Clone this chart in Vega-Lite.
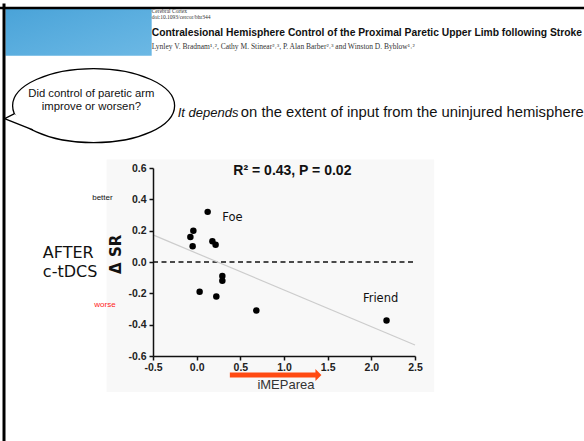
{
  "$schema": "https://vega.github.io/schema/vega-lite/v6.json",
  "width": 262,
  "height": 188,
  "autosize": "none",
  "padding": {"left": 153, "top": 168, "right": 169, "bottom": 85},
  "background": "white",
  "config": {"view": {"stroke": null}},
  "encoding": {
    "x": {
      "field": "x", "type": "quantitative",
      "scale": {"domain": [-0.5, 2.5], "nice": false, "zero": false},
      "axis": {
        "values": [-0.5, 0, 0.5, 1, 1.5, 2, 2.5], "format": ".1f",
        "labelExpr": "replace(datum.label, '−', '-')",
        "title": null, "grid": false, "labelFlush": false, "labelOverlap": false, "labelBound": false, "zindex": 2,
        "domainColor": "#111", "domainWidth": 1.5, "tickColor": "#111", "tickWidth": 1.5, "tickSize": 4,
        "labelFont": "Liberation Sans", "labelFontWeight": "bold", "labelFontSize": 10.5, "labelColor": "#222", "labelPadding": 2
      }
    },
    "y": {
      "field": "y", "type": "quantitative",
      "scale": {"domain": [-0.6, 0.6], "nice": false, "zero": false},
      "axis": {
        "values": [-0.6, -0.4, -0.2, 0, 0.2, 0.4, 0.6], "format": ".1f",
        "labelExpr": "replace(datum.label, '−', '-')",
        "title": null, "grid": false, "labelFlush": false, "labelOverlap": false, "labelBound": false, "zindex": 2,
        "domainColor": "#111", "domainWidth": 1.5, "tickColor": "#111", "tickWidth": 1.5, "tickSize": 4,
        "labelFont": "Liberation Sans", "labelFontWeight": "bold", "labelFontSize": 10.5, "labelColor": "#222", "labelPadding": 3
      }
    }
  },
  "layer": [
    {
      "data": {"values": [{"x": -1.031, "x2": 2.719, "y": 0.654, "y2": -0.83}]},
      "mark": {"type": "rect", "fill": "#f8f8f8", "clip": false},
      "encoding": {"x2": {"field": "x2"}, "y2": {"field": "y2"}}
    },
    {
      "data": {"values": [{"x": -2.189, "x2": -0.515, "y": 1.616, "y2": 1.3166}]},
      "mark": {"type": "rect", "clip": false, "fill": {"x1": 0, "y1": 0, "x2": 1, "y2": 1, "gradient": "linear", "stops": [{"offset": 0, "color": "#4aa3d8"}, {"offset": 0.6, "color": "#5eb0e0"}, {"offset": 1, "color": "#6cb8e4"}]}},
      "encoding": {"x2": {"field": "x2"}, "y2": {"field": "y2"}}
    },
    {
      "data": {"values": [{"x": -2.3, "x2": 4.6, "y": 1.622}]},
      "mark": {"type": "rule", "color": "#000", "strokeWidth": 2.5, "clip": false},
      "encoding": {"x2": {"field": "x2"}}
    },
    {
      "data": {"values": [{"x": -2.206, "y": 1.65, "y2": -1.2}]},
      "mark": {"type": "rule", "color": "#000", "strokeWidth": 3, "clip": false},
      "encoding": {"y2": {"field": "y2"}}
    },
    {
      "data": {"values": [{"x": -0.5, "x2": 2.5, "y": 0}]},
      "mark": {"type": "rule", "color": "#111", "strokeWidth": 1.5, "strokeDash": [5, 3.5], "clip": false},
      "encoding": {"x2": {"field": "x2"}}
    },
    {
      "data": {"values": [{"x": -0.5, "y": 0.173}, {"x": 2.5, "y": -0.53}]},
      "mark": {"type": "line", "color": "#cccccc", "strokeWidth": 1.2, "clip": false},
      "encoding": {}
    },
    {
      "data": {"values": [
        {"x": 0.126, "y": 0.32}, {"x": -0.038, "y": 0.2}, {"x": -0.072, "y": 0.16}, {"x": -0.046, "y": 0.1},
        {"x": 0.18, "y": 0.133}, {"x": 0.217, "y": 0.11}, {"x": 0.294, "y": -0.09}, {"x": 0.294, "y": -0.12},
        {"x": 0.034, "y": -0.19}, {"x": 0.225, "y": -0.22}, {"x": 0.683, "y": -0.31}, {"x": 2.174, "y": -0.373}
      ]},
      "mark": {"type": "point", "shape": "circle", "filled": true, "color": "#000", "opacity": 1, "size": 42, "clip": false},
      "encoding": {}
    },
    {
      "data": {"values": [{"x": 1.096, "y": 0.578, "t": "R² = 0.43, P = 0.02"}]},
      "mark": {"type": "text", "font": "Liberation Sans", "fontWeight": "bold", "fontSize": 14, "color": "#111", "align": "center", "baseline": "middle", "clip": false},
      "encoding": {"text": {"field": "t"}}
    },
    {
      "data": {"values": [{"x": 0.41, "y": 0.282, "t": "Foe"}, {"x": 2.106, "y": -0.238, "t": "Friend"}]},
      "mark": {"type": "text", "font": "DejaVu Sans", "fontSize": 11.5, "color": "#111", "align": "center", "baseline": "middle", "clip": false},
      "encoding": {"text": {"field": "t"}}
    },
    {
      "data": {"values": [{"x": 1.022, "y": -0.785, "t": "iMEParea"}]},
      "mark": {"type": "text", "font": "Liberation Sans", "fontSize": 13, "color": "#333", "align": "center", "baseline": "middle", "clip": false},
      "encoding": {"text": {"field": "t"}}
    },
    {
      "data": {"values": [{"x": -0.922, "y": 0.049, "t": "Δ SR"}]},
      "mark": {"type": "text", "font": "DejaVu Sans", "fontWeight": "bold", "fontSize": 15, "color": "#111", "angle": 270, "align": "center", "baseline": "middle", "clip": false},
      "encoding": {"text": {"field": "t"}}
    },
    {
      "data": {"values": [{"x": -1.079, "y": 0.406, "t": "better"}]},
      "mark": {"type": "text", "font": "Liberation Sans", "fontSize": 8, "color": "#111", "align": "center", "baseline": "middle", "clip": false},
      "encoding": {"text": {"field": "t"}}
    },
    {
      "data": {"values": [{"x": -1.05, "y": -0.274, "t": "worse"}]},
      "mark": {"type": "text", "font": "Liberation Sans", "fontSize": 8, "color": "#ff1a1a", "align": "center", "baseline": "middle", "clip": false},
      "encoding": {"text": {"field": "t"}}
    },
    {
      "data": {"values": [{"x": -1.761, "y": 0.0236, "t": "AFTER"}, {"x": -1.761, "y": -0.0975, "t": "c-tDCS"}]},
      "mark": {"type": "text", "font": "DejaVu Sans", "fontSize": 16, "color": "#111", "align": "left", "baseline": "alphabetic", "clip": false},
      "encoding": {"text": {"field": "t"}}
    },
    {
      "data": {"values": [{"x": -1.18, "y": 0.998}]},
      "mark": {"type": "point", "shape": "M -1 0 C -1 -0.2524 -0.5523 -0.457 0 -0.457 C 0.5523 -0.457 1 -0.2524 1 0 C 1 0.2524 0.5523 0.457 0 0.457 C -0.5523 0.457 -1 0.2524 -1 0 Z", "size": 26244, "filled": true, "fill": "#ffffff", "stroke": "#000", "strokeWidth": 1.3, "opacity": 1, "fillOpacity": 1, "strokeOpacity": 1, "clip": false},
      "encoding": {}
    },
    {
      "data": {"values": [{"x": -1.18, "y": 0.998}]},
      "mark": {"type": "point", "shape": "M -0.976 0.099 L -1.099 0.16 L -0.75 0.3", "size": 26244, "filled": true, "fill": "#ffffff", "stroke": "#000", "strokeWidth": 1.3, "opacity": 1, "fillOpacity": 1, "strokeOpacity": 1, "clip": false},
      "encoding": {}
    },
    {
      "data": {"values": [{"x": -1.206, "y": 1.052, "t": "Did control of paretic arm"}, {"x": -1.206, "y": 0.969, "t": "improve or worsen?"}]},
      "mark": {"type": "text", "font": "Liberation Sans", "fontSize": 11.3, "color": "#111", "align": "center", "baseline": "alphabetic", "clip": false},
      "encoding": {"text": {"field": "t"}}
    },
    {
      "data": {"values": [{"x": -0.217, "y": 0.928, "t": "It depends"}]},
      "mark": {"type": "text", "font": "Liberation Sans", "fontStyle": "italic", "fontSize": 13, "color": "#111", "align": "left", "baseline": "alphabetic", "clip": false},
      "encoding": {"text": {"field": "t"}}
    },
    {
      "data": {"values": [{"x": 0.5057, "y": 0.928, "t": "on the extent of input from the uninjured hemisphere"}]},
      "mark": {"type": "text", "font": "Liberation Sans", "fontSize": 14.8, "color": "#111", "align": "left", "baseline": "alphabetic", "clip": false},
      "encoding": {"text": {"field": "t"}}
    },
    {
      "data": {"values": [{"x": -0.515, "y": 1.587, "t": "Cerebral Cortex"}, {"x": -0.515, "y": 1.552, "t": "doi:10.1093/cercor/bhr344"}]},
      "mark": {"type": "text", "font": "Liberation Serif", "fontSize": 5.5, "color": "#333", "align": "left", "baseline": "alphabetic", "clip": false},
      "encoding": {"text": {"field": "t"}}
    },
    {
      "data": {"values": [{"x": -0.515, "y": 1.44, "t": "Contralesional Hemisphere Control of the Proximal Paretic Upper Limb following Stroke"}]},
      "mark": {"type": "text", "font": "Liberation Sans", "fontWeight": "bold", "fontSize": 10.3, "color": "#111", "align": "left", "baseline": "alphabetic", "clip": false},
      "encoding": {"text": {"field": "t"}}
    },
    {
      "data": {"values": [{"x": -0.515, "y": 1.361, "t": "Lynley V. Bradnam¹˒², Cathy M. Stinear²˒³, P. Alan Barber²˒³ and Winston D. Byblow¹˒²"}]},
      "mark": {"type": "text", "font": "Liberation Serif", "fontSize": 7.5, "color": "#333", "align": "left", "baseline": "alphabetic", "clip": false},
      "encoding": {"text": {"field": "t"}}
    },
    {
      "data": {"values": [{"x": 0.38, "x2": 1.366, "y": -0.722}]},
      "mark": {"type": "rule", "color": "#ff4a12", "strokeWidth": 5, "strokeCap": "butt", "clip": false},
      "encoding": {"x2": {"field": "x2"}}
    },
    {
      "data": {"values": [{"x": 1.394, "y": -0.722}]},
      "mark": {"type": "point", "shape": "M -0.5 -1 L 0.5 0 L -0.5 1 Z", "size": 144, "filled": true, "color": "#ff4a12", "opacity": 1, "clip": false},
      "encoding": {}
    }
  ]
}
